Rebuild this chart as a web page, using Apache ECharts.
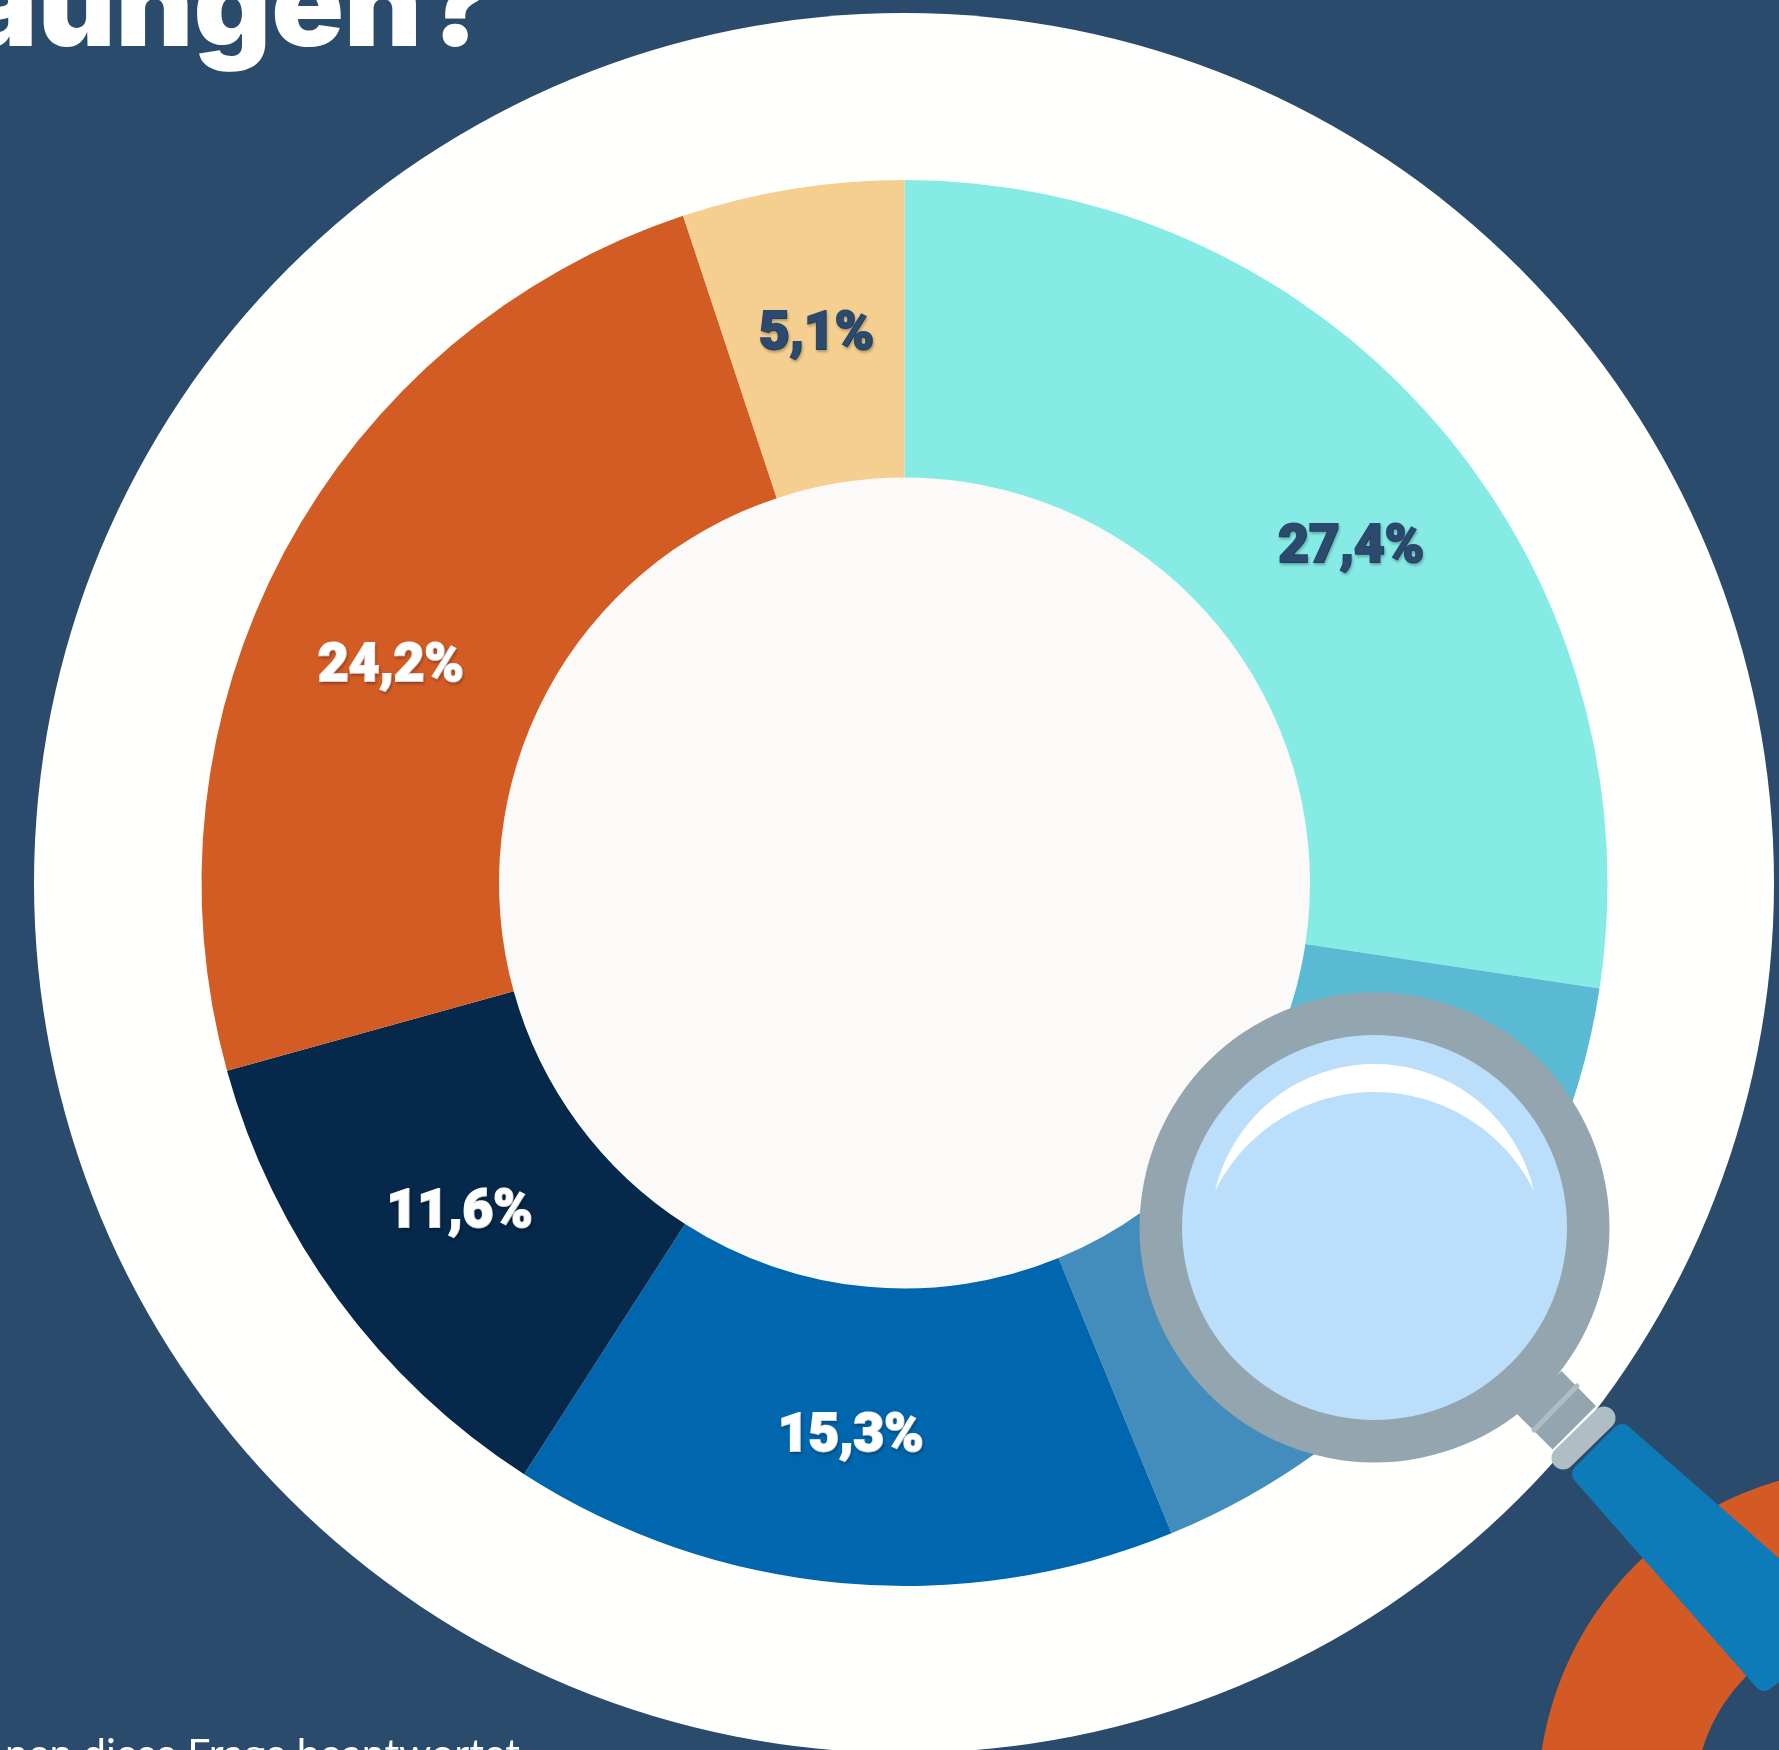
<!DOCTYPE html>
<html><head><meta charset="utf-8">
<style>html,body{margin:0;padding:0;background:#2B4B6D;overflow:hidden}#c{width:1779px;height:1750px}</style>
<script src="https://cdn.jsdelivr.net/npm/echarts@6/dist/echarts.min.js"></script>
</head><body><div id="c"></div>
<script>
// Two middle slices are partly hidden by the magnifier: their sum is readable (16.4), the split is estimated.
const sliceNames = ['A','B','C','D','E','F','G'];
const sliceValues = [27.4, 8.9, 7.5, 15.3, 11.6, 24.2, 5.1];
const sliceLabels = ['27,4%', '', '', '15,3%', '11,6%', '24,2%', '5,1%'];
const sliceColors = ['#86EBE5','#5ABAD3','#428DBC','#0066AD','#05284B','#D35C24','#F5CF8F'];
const labelColors = ['#2B4A6E','#fff','#fff','#fff','#fff','#fff','#2B4A6E'];
const labelNudge = [[24,29],[0,0],[0,0],[-3,0],[4,0],[-22,47],[1,3]];
const titleText = 'aungen?';
const noteText = 'nen diese Frage beantwortet';

function crescent(){
  const pts=[], x0=1215, x1=1534, yb=1191, mid=(x0+x1)/2, half=(x1-x0)/2;
  const arc=(sag,rev)=>{const r=(half*half+sag*sag)/(2*sag), cy=yb-sag+r, a=Math.asin(half/r);
    for(let i=0;i<=40;i++){const t=-a+2*a*i/40, s=rev?-t:t; pts.push([mid+r*Math.sin(s), cy-r*Math.cos(s)]);}};
  arc(127,false); arc(99,true);
  return pts;
}

const chart = echarts.init(document.getElementById('c'), null, {renderer:'canvas', width:1779, height:1750});
const cx = 904, cy = 883;
chart.setOption({
  animation:false,
  backgroundColor:'#2B4B6D',
  series:[{
    type:'pie', center:[904.5,cy], radius:[405.5,703], startAngle:90, clockwise:true, silent:true, z:5,
    label:{position:'inside'}, labelLine:{show:false},
    data: sliceValues.map((v,i)=>({
      name:sliceNames[i], value:v,
      itemStyle:{color:sliceColors[i]},
      label:{show:!!sliceLabels[i], formatter:sliceLabels[i]||' ', color:labelColors[i],
        fontFamily:'Roboto', fontWeight:900, fontSize:53, offset:labelNudge[i],
        textBorderColor:labelColors[i], textBorderWidth:2,
        textShadowColor:'rgba(0,0,0,0.22)', textShadowBlur:3, textShadowOffsetX:1, textShadowOffsetY:2}
    }))
  }],
  graphic:[
    {type:'ring', z:1, shape:{cx:1870,cy:1800,r:332,r0:175}, style:{fill:'#D35A25'}},
    {type:'circle', z:2, shape:{cx:cx,cy:cy,r:870}, style:{fill:'#FFFFFE'}},
    {type:'circle', z:3, shape:{cx:904.5,cy:cy,r:406}, style:{fill:'#FBFAF9'}},
    {type:'text', z:50, x:494, y:-50, style:{text:titleText, fill:'#fff', font:'900 120px Inter', align:'right', verticalAlign:'top'}},
    {type:'text', z:50, x:520, y:1734, style:{text:noteText, fill:'#fff', font:'400 41px Lato', align:'right', verticalAlign:'top'}},
    {type:'polygon', z:100, shape:{points:[[1561.5,1371],[1596,1406],[1552.6,1449.4],[1517,1414]]}, style:{fill:'#93A5AF'}},
    {type:'circle', z:101, shape:{cx:1374.5,cy:1227.5,r:235}, style:{fill:'#93A5AF'}},
    {type:'circle', z:102, shape:{cx:1374.5,cy:1227.5,r:192.5}, style:{fill:'#BBDEFA'}},
    {type:'polygon', z:103, shape:{points:crescent()}, style:{fill:'#fff'}},
    {type:'line', z:103, shape:{x1:1577,y1:1386,x2:1534,y2:1430}, style:{stroke:'#AFBDC4',lineWidth:5,lineCap:'round'}},
    {type:'polygon', z:104, shape:{points:[[1622,1434],[1582,1474],[1764,1681],[1840,1625]]}, style:{fill:'#0C7BB8',stroke:'#0C7BB8',lineWidth:20,lineJoin:'round'}},
    {type:'line', z:105, shape:{x1:1604,y1:1418,x2:1563,y2:1458}, style:{stroke:'#AFBDC4',lineWidth:23,lineCap:'round'}}
  ]
});
</script></body></html>
